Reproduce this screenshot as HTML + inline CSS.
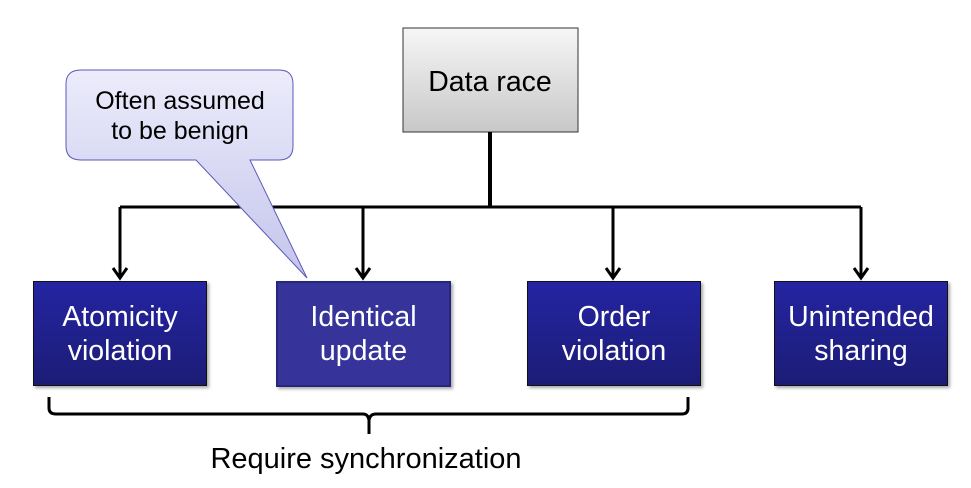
<!DOCTYPE html>
<html><head><meta charset="utf-8"><style>
html,body{margin:0;padding:0;background:#fff;}
body{width:971px;height:488px;overflow:hidden;position:relative;font-family:"Liberation Sans",Arial,sans-serif;}
svg{position:absolute;left:0;top:0;}
.b{position:absolute;color:#fff;font-size:28.5px;line-height:34px;text-align:center;display:flex;align-items:center;justify-content:center;box-sizing:border-box;box-shadow:2px 2px 3px rgba(0,0,0,0.35);}
.d{background:linear-gradient(#2424a2,#1c1c76);border:1px solid #111;}
</style></head><body>
<svg width="971" height="488">
<defs>
<linearGradient id="cg" x1="0" y1="0" x2="0" y2="1"><stop offset="0" stop-color="#ececfb"/><stop offset="1" stop-color="#c4c4ec"/></linearGradient>
<linearGradient id="gg" x1="0" y1="0" x2="0" y2="1"><stop offset="0" stop-color="#f6f6f6"/><stop offset="1" stop-color="#c8c8c8"/></linearGradient>
</defs>
<rect x="403" y="28" width="175" height="104" fill="url(#gg)" stroke="#333" stroke-width="1"/>
<text x="490" y="91" font-size="28.5" text-anchor="middle" fill="#000" font-family="Liberation Sans, sans-serif">Data race</text>
<g stroke="#000" stroke-width="3" fill="none">
<line x1="490" y1="132" x2="490" y2="207" stroke-width="4"/>
<line x1="120" y1="207" x2="861" y2="207"/>
<line x1="120" y1="207" x2="120" y2="277"/>
<line x1="363" y1="207" x2="363" y2="277"/>
<line x1="613" y1="207" x2="613" y2="277"/>
<line x1="861" y1="207" x2="861" y2="277"/>
<polyline points="113,268 120,278 127,268"/>
<polyline points="356,268 363,278 370,268"/>
<polyline points="606,268 613,278 620,268"/>
<polyline points="854,268 861,278 868,268"/>
<path d="M49,397 V408 Q49,414 56,414 H363 Q368,414 369,420 V434 M369,420 Q370,414 376,414 H682 Q688,414 688,408 V397"/>
</g>
<path d="M81,70 H279 Q293,70 293,84 V146 Q293,160 279,160 H250 L307,278 L196,160 H81 Q66,160 66,146 V84 Q66,70 81,70 Z" fill="url(#cg)" stroke="#5a5ab8" stroke-width="1"/>
<text x="180" y="109" font-size="25" text-anchor="middle" fill="#000" font-family="Liberation Sans, sans-serif">Often assumed</text>
<text x="180" y="139" font-size="25" text-anchor="middle" fill="#000" font-family="Liberation Sans, sans-serif">to be benign</text>
<text x="366" y="468" font-size="29" text-anchor="middle" fill="#000" font-family="Liberation Sans, sans-serif">Require synchronization</text>
</svg>
<div class="b d" style="left:33px;top:281px;width:174px;height:105px;">Atomicity<br>violation</div>
<div class="b" style="left:276px;top:281px;width:175px;height:106px;background:#36349a;border:2px solid #26267a;">Identical<br>update</div>
<div class="b d" style="left:527px;top:281px;width:174px;height:105px;">Order<br>violation</div>
<div class="b d" style="left:774px;top:281px;width:174px;height:105px;">Unintended<br>sharing</div>
</body></html>
